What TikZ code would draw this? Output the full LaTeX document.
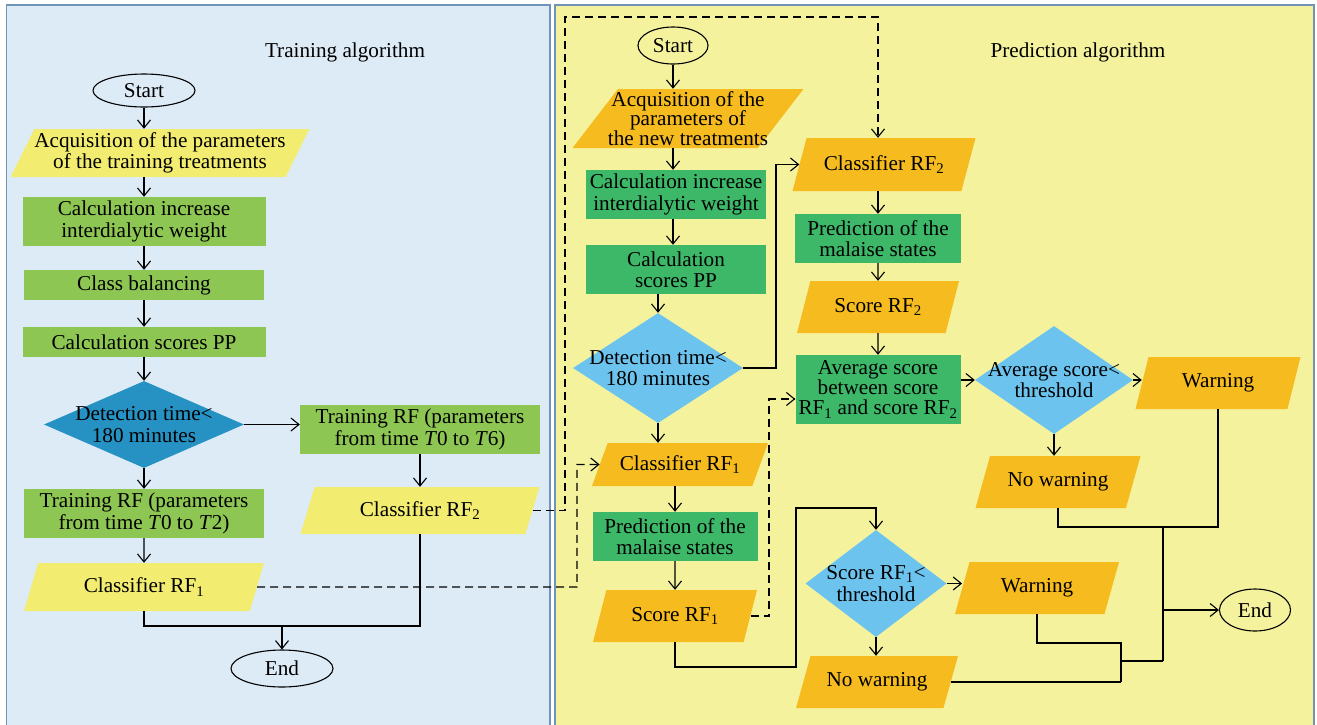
\documentclass[tikz,border=0pt]{standalone}
\usepackage{fontspec}
\setmainfont{Liberation Serif}
\usetikzlibrary{shapes.geometric,arrows.meta,calc}

\definecolor{leftbg}{RGB}{221,235,247}
\definecolor{rightbg}{RGB}{245,242,158}
\definecolor{frame}{RGB}{112,148,184}
\definecolor{tyellow}{RGB}{242,236,112}
\definecolor{tgreen}{RGB}{142,198,83}
\definecolor{tblue}{RGB}{38,146,196}
\definecolor{porange}{RGB}{246,187,30}
\definecolor{pgreen}{RGB}{60,184,104}
\definecolor{pblue}{RGB}{108,196,238}

\tikzset{
  every node/.style={font=\fontsize{21.2}{21.5}\selectfont},
  startend/.style={ellipse, draw, line width=1.1pt, inner sep=0pt},
  procbox/.style={rectangle, align=center, inner sep=0pt},
  iobox/.style={trapezium, trapezium left angle=#1, trapezium right angle={180-#1},
    trapezium stretches body, align=center, inner sep=0pt},
  iobox/.default=52,
  decide/.style={diamond, align=center, inner xsep=-15pt, inner ysep=-8pt},
  wire/.style={line width=1.1pt},
  flow/.style={wire, -{Straight Barb[length=8pt,width=13pt]}},
  dflow/.style={flow, dash pattern=on 8pt off 5pt},
}

\begin{document}
\begin{tikzpicture}[x=1pt,y=1pt,yscale=-1]
\useasboundingbox (0,0) rectangle (1317,724);

% panels
\draw[frame, fill=leftbg, line width=1.7pt] (6.5,5) rectangle (550,740);
\draw[frame, fill=rightbg, line width=1.7pt] (555,5) rectangle (1314,740);

% training algorithm
\node (ttitle) at (345,52) {Training algorithm};
\node[startend, minimum width=102, minimum height=33] (tstart) at (144,90.5) {Start};
\node[iobox=60, fill=tyellow, minimum width=297, minimum height=48] (tacq) at (160,153)
  {Acquisition of the parameters\\of the training treatments};
\node[procbox, fill=tgreen, minimum width=243, minimum height=49] (tcalc) at (144,221.5)
  {Calculation increase\\interdialytic weight};
\node[procbox, fill=tgreen, minimum width=240, minimum height=30] (tbal) at (144,285) {Class balancing};
\node[procbox, fill=tgreen, minimum width=243, minimum height=30] (tpp) at (144,342) {Calculation scores PP};
\node[decide, aspect=2.3, fill=tblue, minimum width=200, minimum height=87] (tdet) at (144,424.5)
  {Detection time<\\180 minutes};
\node[procbox, fill=tgreen, minimum width=240, minimum height=49] (tt6) at (420,429.5)
  {Training RF (parameters\\from time \textit{T}0 to \textit{T}6)};
\node[iobox, fill=tyellow, minimum width=239, minimum height=47] (trf2) at (420,510.5)
  {Classifier RF\textsubscript{2}};
\node[procbox, fill=tgreen, minimum width=240, minimum height=49] (tt2) at (144,513.5)
  {Training RF (parameters\\from time \textit{T}0 to \textit{T}2)};
\node[iobox, fill=tyellow, minimum width=240, minimum height=48] (trf1) at (144,587)
  {Classifier RF\textsubscript{1}};
\node[startend, minimum width=102, minimum height=37] (tend) at (282,668.5) {End};
\coordinate (tjoin) at (282,626);

\draw[flow] (tstart.south) -- (tstart.south |- tacq.north);
\draw[flow] (tstart.south |- tacq.south) -- (tcalc.north);
\draw[flow] (tcalc) -- (tbal);
\draw[flow] (tbal) -- (tpp);
\draw[flow] (tpp) -- (tdet);
\draw[flow] (tdet.east) -- (tdet.east -| tt6.west);
\draw[flow] (tt6) -- (trf2);
\draw[flow] (tdet) -- (tt2);
\draw[flow] (tt2) -- (trf1);
\draw[wire] (trf1.south) |- (tjoin) -| (trf2.south);
\draw[flow] (tjoin) -- (tend);

% prediction algorithm
\node (ptitle) at (1078,52) {Prediction algorithm};
\node[startend, minimum width=70, minimum height=37] (pstart) at (673,45.5) {Start};
\node[iobox=50, fill=porange, minimum width=228, minimum height=59, inner xsep=-10pt,
  font=\fontsize{21.2}{19.5}\selectfont] (pacq) at (688,118.5)
  {Acquisition of the\\parameters of\\the new treatments};
\node[procbox, fill=pgreen, minimum width=180, minimum height=49] (pcalc) at (676,194.5)
  {Calculation increase\\interdialytic weight};
\node[procbox, fill=pgreen, minimum width=180, minimum height=49] (ppp) at (676,269.5)
  {Calculation\\scores PP};
\node[decide, aspect=1.55, fill=pblue, minimum width=170, minimum height=110] (pdet) at (658,368)
  {Detection time<\\180 minutes};
\node[iobox=49, fill=porange, minimum width=176, minimum height=43] (prf1) at (680,464.5)
  {Classifier RF\textsubscript{1}};
\node[procbox, fill=pgreen, minimum width=165, minimum height=49] (ppred1) at (675,536.5)
  {Prediction of the\\malaise states};
\node[iobox, fill=porange, minimum width=164, minimum height=52] (psc1) at (675,616)
  {Score RF\textsubscript{1}};
\node[iobox, fill=porange, minimum width=183, minimum height=53] (prf2) at (884,164.5)
  {Classifier RF\textsubscript{2}};
\node[procbox, fill=pgreen, minimum width=166, minimum height=49] (ppred2) at (878,238.5)
  {Prediction of the\\malaise states};
\node[iobox, fill=porange, minimum width=162, minimum height=52] (psc2) at (878,307)
  {Score RF\textsubscript{2}};
\node[procbox, fill=pgreen, minimum width=165, minimum height=69,
  font=\fontsize{21.2}{20}\selectfont] (pavg) at (878,389.5)
  {Average score\\between score\\RF\textsubscript{1} and score RF\textsubscript{2}};
\node[decide, aspect=1.46, fill=pblue, minimum width=158, minimum height=108] (pavgdec) at (1054,380)
  {Average score<\\threshold};
\node[iobox=55, fill=porange, minimum width=165, minimum height=52] (pwarn1) at (1218,383) {Warning};
\node[iobox, fill=porange, minimum width=165, minimum height=52] (pnowarn1) at (1058,482) {No warning};
\node[decide, aspect=1.32, fill=pblue, minimum width=141, minimum height=107] (pscdec) at (876,583.5)
  {Score RF\textsubscript{1}<\\threshold};
\node[iobox, fill=porange, minimum width=164, minimum height=52] (pwarn2) at (1037,588) {Warning};
\node[iobox, fill=porange, minimum width=162, minimum height=52] (pnowarn2) at (877,682) {No warning};
\node[startend, minimum width=71, minimum height=42] (pend) at (1255,610) {End};

\coordinate (pbend) at (776,368);
\coordinate (pb2) at (796,667);
\coordinate (pb3) at (796,508);
\coordinate (pj1) at (1163,527);
\coordinate (pj2) at (1163,661);
\coordinate (pj3) at (1121,643);

\draw[flow] (pstart) -- (pstart |- pacq.north);
\draw[flow] (pstart |- pacq.south) -- (pstart |- pcalc.north);
\draw[flow] (pstart |- pcalc.south) -- (pstart |- ppp.north);
\draw[flow] (pdet.north |- ppp.south) -- (pdet.north);
\draw[flow] (pdet.east) -- (pbend) |- (prf2.west);
\draw[flow] (pdet.south) -- (pdet.south |- prf1.north);
\draw[flow] (ppred1 |- prf1.south) -- (ppred1.north);
\draw[flow] (ppred1) -- (psc1);
\draw[flow] (psc1.south) |- (pb2) -- (pb3) -| (pscdec.north);
\draw[flow] (ppred2 |- prf2.south) -- (ppred2.north);
\draw[flow] (ppred2) -- (psc2);
\draw[flow] (psc2) -- (pavg);
\draw[flow] (pavgdec.west -| pavg.east) -- (pavgdec.west);
\draw[flow] (pavgdec.east) -- (pavgdec.east -| pwarn1.west);
\draw[flow] (pavgdec.south) -- (pavgdec.south |- pnowarn1.north);
\draw[flow] (pscdec.east) -- (pscdec.east -| pwarn2.west);
\draw[flow] (pscdec.south) -- (pscdec.south |- pnowarn2.north);
\draw[wire] (pnowarn1.south) |- (pj1) -| (pwarn1.south);
\draw[wire] (pj1) -- (pj2);
\draw[flow] (pj1 |- pend.west) -- (pend.west);
\draw[wire] (pwarn2.south) |- (pj3) -- (pj3 |- pnowarn2.east);
\draw[wire] (pnowarn2.east) -- (pj3 |- pnowarn2.east);
\draw[wire] (pj3 |- pj2) -- (pj2);

% classifiers handed over
\coordinate (dA) at (577,587);
\coordinate (dB) at (565,17);
\coordinate (dC) at (769,615);
\draw[dflow] (trf1.east) -- (dA) |- (prf1.west);
\draw[dflow] (trf2.east) -| (dB) -| (ppred2.north |- prf2.north);
\draw[dflow] (psc1.east) -- (psc1.east -| dC) |- ($(pavg.west)+(0,9.5)$);

\end{tikzpicture}
\end{document}
